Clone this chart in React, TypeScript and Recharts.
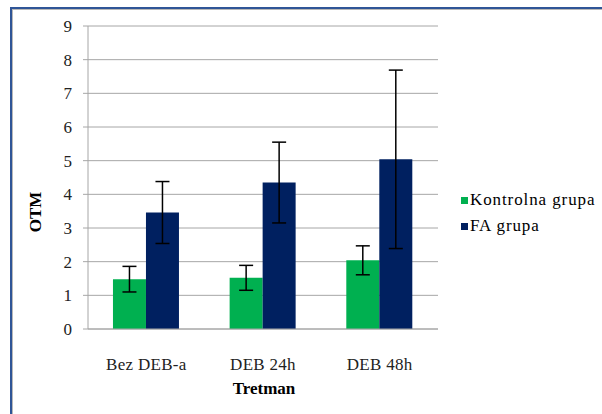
import { BarChart, Bar, CartesianGrid, XAxis, YAxis, ErrorBar, Label } from 'recharts'

const categories = ['Bez DEB-a', 'DEB 24h', 'DEB 48h']
const kontrolna = [1.48, 1.52, 2.04]
const kontrolnaSd = [0.38, 0.37, 0.43]
const faGrupa = [3.46, 4.35, 5.04]
const faGrupaSd = [0.92, 1.2, 2.65]
const yTicks = [0, 1, 2, 3, 4, 5, 6, 7, 8, 9]

const GREEN = '#00b050'
const NAVY = '#002060'
const GRID = '#a6a6a6'
const FONT = 'Liberation Serif'

const data = categories.map((name, i) => ({
  name,
  kontrolna: kontrolna[i],
  kontrolnaSd: kontrolnaSd[i],
  fa: faGrupa[i],
  faSd: faGrupaSd[i],
}))

const legendItems = [
  { label: 'Kontrolna grupa', color: GREEN },
  { label: 'FA grupa', color: NAVY },
]

export default function App() {
  return (
    <div style={{ position: 'absolute', left: 0, top: 0, width: 602, height: 414, background: '#fff', overflow: 'hidden', fontFamily: FONT }}>
      <div style={{ position: 'absolute', left: 10, top: 7, right: 0, bottom: 0, borderLeft: '2px solid #2f5597', borderTop: '2px solid #2f5597' }}>
        <div style={{ position: 'absolute', left: 0, top: 0, right: 0, bottom: 0, borderLeft: '1px solid #b8b8b8', borderTop: '1px solid #b8b8b8' }} />
      </div>
      <div style={{ position: 'absolute', left: 0, top: 0 }}>
        <BarChart width={602} height={414} data={data} margin={{ top: 26, right: 164, bottom: 15, left: 0 }} barGap={0} barCategoryGap="21.4%">
          <CartesianGrid vertical={false} stroke={GRID} />
          <XAxis
            dataKey="name"
            height={70}
            interval={0}
            tickLine={false}
            tickSize={6}
            tickMargin={23}
            axisLine={{ stroke: GRID }}
            tick={{ fontFamily: FONT, fontSize: 17, fill: '#222', letterSpacing: 0.3 }}
          >
            <Label
              content={() => (
                <text x={264} y={394} textAnchor="middle" fontFamily={FONT} fontSize={17} fontWeight="bold" fill="#000">
                  Tretman
                </text>
              )}
            />
          </XAxis>
          <YAxis
            width={88}
            domain={[0, 9]}
            ticks={yTicks}
            interval={0}
            tickSize={5}
            tickMargin={11}
            axisLine={{ stroke: GRID }}
            tickLine={{ stroke: GRID }}
            tick={{ fontFamily: FONT, fontSize: 17, fill: '#222' }}
          >
            <Label
              content={() => (
                <text x={41} y={212} transform="rotate(-90 41 212)" textAnchor="middle" fontFamily={FONT} fontSize={17} fontWeight="bold" fill="#000">
                  OTM
                </text>
              )}
            />
          </YAxis>
          <Bar dataKey="kontrolna" name="Kontrolna grupa" fill={GREEN} isAnimationActive={false}>
            <ErrorBar dataKey="kontrolnaSd" width={7} stroke="#000" strokeWidth={1.5} direction="y" isAnimationActive={false} />
          </Bar>
          <Bar dataKey="fa" name="FA grupa" fill={NAVY} isAnimationActive={false}>
            <ErrorBar dataKey="faSd" width={7} stroke="#000" strokeWidth={1.5} direction="y" isAnimationActive={false} />
          </Bar>
        </BarChart>
      </div>
      <div style={{ position: 'absolute', left: 461, top: 187, fontFamily: FONT, fontSize: 17, color: '#000', letterSpacing: 0.9 }}>
        {legendItems.map((it) => (
          <div key={it.label} style={{ display: 'flex', alignItems: 'center', height: 26, whiteSpace: 'nowrap' }}>
            <span style={{ width: 7, height: 7, background: it.color, marginRight: 2, display: 'inline-block' }} />
            <span>{it.label}</span>
          </div>
        ))}
      </div>
    </div>
  )
}
